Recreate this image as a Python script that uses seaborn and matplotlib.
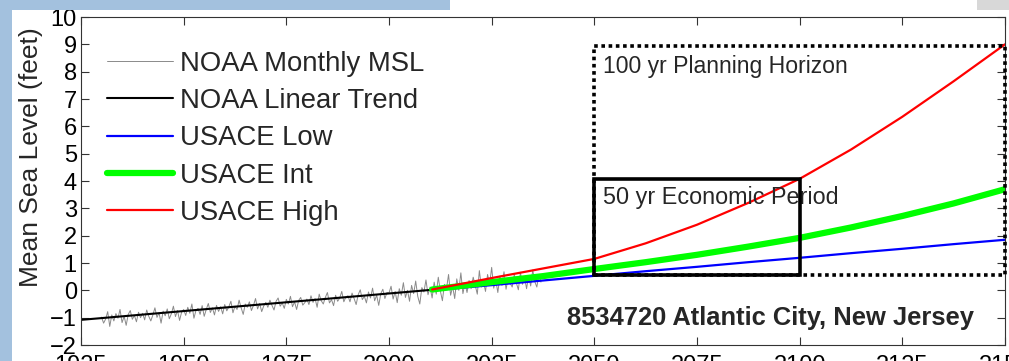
import numpy as np
import pandas as pd
import matplotlib.pyplot as plt
import seaborn as sns
from matplotlib.patches import Rectangle

# observed monthly MSL (feet), sampled twice a year, 1930.0 .. 2037.0
msl_start, msl_step = 1930.0, 0.5
msl_values = [
    -0.98, -1.20, -1.05, -0.78, -1.32, -0.90, -1.12, -0.85, -1.02, -0.70,
    -1.18, -0.95, -1.28, -0.88, -0.74, -1.06, -0.92, -1.15, -0.80, -1.00,
    -0.84, -1.08, -0.72, -0.95, -1.12, -0.90, -0.64, -0.99, -0.82, -1.20,
    -0.76, -0.93, -0.68, -1.04, -0.86, -0.58, -0.96, -0.74, -1.10, -0.80,
    -0.70, -0.92, -0.62, -0.84, -0.50, -1.02, -0.73, -0.66, -0.88, -0.56,
    -0.95, -0.70, -0.48, -0.81, -0.64, -0.90, -0.55, -0.77, -0.60, -0.86,
    -0.52, -0.75, -0.60, -0.40, -0.82, -0.58, -0.70, -0.36, -0.64, -0.88,
    -0.50, -0.62, -0.42, -0.74, -0.55, -0.30, -0.68, -0.48, -0.78, -0.57,
    -0.44, -0.62, -0.36, -0.55, -0.72, -0.40, -0.28, -0.58, -0.46, -0.66,
    -0.33, -0.50, -0.22, -0.60, -0.42, -0.70, -0.37, -0.26, -0.54, -0.45,
    -0.32, -0.52, -0.20, -0.44, -0.30, -0.62, -0.14, -0.38, -0.50, -0.26,
    -0.08, -0.46, -0.34, -0.56, -0.18, -0.40, -0.28, -0.04, -0.42, -0.24,
    -0.20, -0.42, -0.10, -0.30, -0.52, -0.16, 0.02, -0.34, -0.22, -0.46,
    -0.06, -0.28, 0.08, -0.38, -0.18, -0.55, -0.12, 0.04, -0.30, -0.08,
    -0.10, 0.15, -0.32, -0.04, -0.45, 0.06, -0.18, 0.28, -0.26, 0.00,
    -0.40, 0.18, -0.12, 0.34, -0.22, -0.50, 0.10, -0.06, 0.38, -0.16,
    0.12, -0.28, 0.30, -0.14, 0.48, -0.02, -0.38, 0.22, 0.06, 0.58,
    -0.18, 0.14, -0.30, 0.42, 0.00, 0.64, -0.12, 0.26, -0.08, 0.36,
    0.06, 0.48, 0.18, -0.14, 0.72, 0.12, 0.32, -0.04, 0.58, 0.22,
    0.84, 0.08, 0.38, -0.08, 0.52, 0.18, 0.68, 0.04, 0.44, 0.26,
    0.12, 0.58, 0.28, 0.02, 0.66, 0.22, 0.48, 0.06, 0.54, 0.16,
    0.74, 0.32, 0.12, 0.58, 0.30,
]
msl_years = msl_start + msl_step * np.arange(len(msl_values))

# NOAA linear trend end points
trend_years = [1925, 2010.5]
trend_values = [-1.08, 0.02]

# USACE projections
usace_years = [2010.5, 2025, 2037.5, 2050, 2062.5, 2075, 2087.5, 2100, 2112.5, 2125, 2137.5, 2150]
usace_low = [0.00, 0.19, 0.36, 0.53, 0.70, 0.86, 1.03, 1.19, 1.36, 1.52, 1.69, 1.85]
usace_int = [0.03, 0.30, 0.52, 0.78, 1.03, 1.30, 1.60, 1.92, 2.30, 2.72, 3.18, 3.70]
usace_high = [0.03, 0.45, 0.80, 1.15, 1.72, 2.40, 3.20, 4.08, 5.15, 6.35, 7.65, 9.00]

# boxes: economic period and planning horizon
econ_years = [2050, 2100]
econ_levels = [0.56, 4.08]
plan_years = [2050, 2150]
plan_levels = [0.56, 8.95]

sns.set_style("ticks")
plt.rcParams['font.family'] = ['Liberation Sans', 'DejaVu Sans']

fig = plt.figure(figsize=(10.09, 3.61), dpi=100)
fig.patch.set_facecolor('white')
# screenshot background strips
fig.patches.append(Rectangle((0, 0), 12 / 1009, 1, transform=fig.transFigure,
                             facecolor='#a3c1de', edgecolor='none', zorder=0))
fig.patches.append(Rectangle((0, 351 / 361), 450 / 1009, 10 / 361, transform=fig.transFigure,
                             facecolor='#a3c1de', edgecolor='none', zorder=0))
fig.patches.append(Rectangle((977 / 1009, 351 / 361), 32 / 1009, 10 / 361, transform=fig.transFigure,
                             facecolor='#d8d8d8', edgecolor='none', zorder=0))

ax = fig.add_axes([81 / 1009, 16 / 361, 924 / 1009, 328 / 361])

df_msl = pd.DataFrame({'year': msl_years, 'level': msl_values})
df_trend = pd.DataFrame({'year': trend_years, 'level': trend_values})
df_low = pd.DataFrame({'year': usace_years, 'level': usace_low})
df_int = pd.DataFrame({'year': usace_years, 'level': usace_int})
df_high = pd.DataFrame({'year': usace_years, 'level': usace_high})

sns.lineplot(data=df_msl, x='year', y='level', ax=ax, color='#8a8a8a', lw=0.7, label='NOAA Monthly MSL')
sns.lineplot(data=df_trend, x='year', y='level', ax=ax, color='black', lw=1.5, label='NOAA Linear Trend')
sns.lineplot(data=df_low, x='year', y='level', ax=ax, color='#0000ff', lw=1.6, label='USACE Low')
sns.lineplot(data=df_int, x='year', y='level', ax=ax, color='#00ff00', lw=4.5, label='USACE Int')
sns.lineplot(data=df_high, x='year', y='level', ax=ax, color='#ff0000', lw=1.6, label='USACE High')

ax.add_patch(Rectangle((econ_years[0], econ_levels[0]), econ_years[1] - econ_years[0],
                       econ_levels[1] - econ_levels[0], fill=False, edgecolor='black', lw=2.6, zorder=5))
ax.add_patch(Rectangle((plan_years[0], plan_levels[0]), plan_years[1] - plan_years[0],
                       plan_levels[1] - plan_levels[0], fill=False, edgecolor='black', lw=2.6,
                       linestyle=(0, (1, 1)), zorder=5, clip_on=False))

ax.text(2052, 8.2, '100 yr Planning Horizon', fontsize=16.6, va='center', ha='left')
ax.text(2052, 3.4, '50 yr Economic Period', fontsize=16.8, va='center', ha='left')
ax.text(2142.5, -1.0, '8534720 Atlantic City, New Jersey', fontsize=18.4, fontweight='bold',
        va='center', ha='right')

ax.set_xlim(1925, 2150)
ax.set_ylim(-2, 10)
ax.set_xticks(np.arange(1925, 2151, 25))
ax.set_yticks(np.arange(-2, 11, 1))
ax.tick_params(direction='in', length=6, width=0.8, labelsize=17, pad=3,
               top=True, right=True, colors='#333333', labelcolor='black')
ax.tick_params(axis='x', pad=7)
for s in ax.spines.values():
    s.set_color('#333333')
    s.set_linewidth(0.8)
ax.set_xlabel('')
ax.set_ylabel('Mean Sea Level (feet)', fontsize=19)
ax.yaxis.set_label_coords(-0.041, 0.573)

leg = ax.legend(loc='upper left', bbox_to_anchor=(0.028, 0.897), frameon=False, fontsize=19.8,
                handlelength=2.4, handletextpad=0.25, labelspacing=0.41, borderpad=0, borderaxespad=0)

plt.savefig('out.png', dpi=100)
plt.close()
